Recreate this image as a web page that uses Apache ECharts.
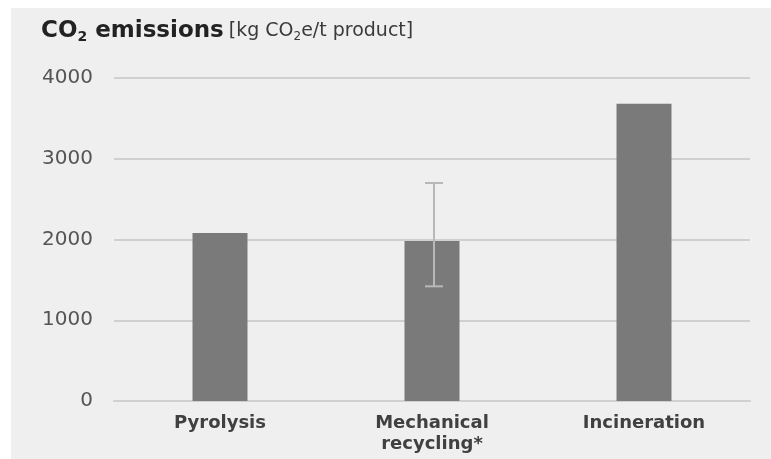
<!DOCTYPE html>
<html>
<head>
<meta charset="utf-8">
<script src="https://cdn.jsdelivr.net/npm/echarts@6/dist/echarts.min.js"></script>
<style>
  html, body { margin: 0; padding: 0; background: #fff; }
  #main { width: 771px; height: 459px; }
</style>
</head>
<body>
<div id="main"></div>
<script>
  // data
  var categories = ['Pyrolysis', 'Mechanical\nrecycling*', 'Incineration'];
  var emissions = [2080, 1980, 3680];
  // error range only for mechanical recycling: [index, low, high]
  var errorRanges = [[1, 1420, 2700]];
  var yTicks = [0, 1000, 2000, 3000, 4000];

  var chart = echarts.init(document.getElementById('main'));

  var option = {
    backgroundColor: '#fff',
    graphic: [{
      type: 'rect',
      z: -10,
      shape: { x: 11, y: 8, width: 771, height: 460 },
      style: { fill: '#efefef' }
    }],
    title: {
      text: '{b|CO}{bs|2}{b| emissions} {n|[kg CO}{ns|2}{n|e/t product]}',
      left: 36,
      top: 14,
      textStyle: {
        rich: {
          b: { fontFamily: 'DejaVu Sans', fontSize: 23, fontWeight: 'bold', color: '#222' },
          bs: { fontFamily: 'DejaVu Sans', fontSize: 14, fontWeight: 'bold', color: '#222', padding: [11, 0, 0, 0] },
          n: { fontFamily: 'DejaVu Sans', fontSize: 19, fontWeight: 'normal', color: '#3a3a3a' },
          ns: { fontFamily: 'DejaVu Sans', fontSize: 12, fontWeight: 'normal', color: '#3a3a3a', padding: [10, 0, 0, 0] }
        }
      }
    },
    grid: { left: 114, right: 21, top: 78, bottom: 58 },
    xAxis: {
      type: 'category',
      data: categories,
      axisLine: { lineStyle: { color: '#d0d0d0', width: 2 } },
      axisTick: { show: false },
      axisLabel: {
        margin: 12,
        fontFamily: 'DejaVu Sans',
        fontSize: 18,
        fontWeight: 'bold',
        color: '#404040',
        lineHeight: 21
      }
    },
    yAxis: {
      type: 'value',
      min: yTicks[0],
      max: yTicks[yTicks.length - 1],
      interval: 1000,
      axisLine: { show: false },
      axisTick: { show: false },
      splitLine: { lineStyle: { color: '#d0d0d0', width: 2 } },
      axisLabel: {
        margin: 21,
        fontFamily: 'DejaVu Sans',
        fontSize: 20,
        color: '#555',
        formatter: function (v) { return String(v); }
      }
    },
    series: [
      {
        type: 'bar',
        data: emissions,
        barWidth: 55,
        itemStyle: { color: '#7a7a7a' },
        silent: true
      },
      {
        type: 'custom',
        data: errorRanges,
        z: 10,
        renderItem: function (params, api) {
          var idx = api.value(0);
          var lo = api.coord([idx, api.value(1)]);
          var hi = api.coord([idx, api.value(2)]);
          var x = lo[0] + 2;
          var half = 9;
          var style = { stroke: '#b8b8b8', lineWidth: 2 };
          return {
            type: 'group',
            children: [
              { type: 'line', shape: { x1: x, y1: hi[1], x2: x, y2: lo[1] }, style: style },
              { type: 'line', shape: { x1: x - half, y1: hi[1], x2: x + half, y2: hi[1] }, style: style },
              { type: 'line', shape: { x1: x - half, y1: lo[1], x2: x + half, y2: lo[1] }, style: style }
            ]
          };
        }
      }
    ]
  };

  chart.setOption(option);
</script>
</body>
</html>
